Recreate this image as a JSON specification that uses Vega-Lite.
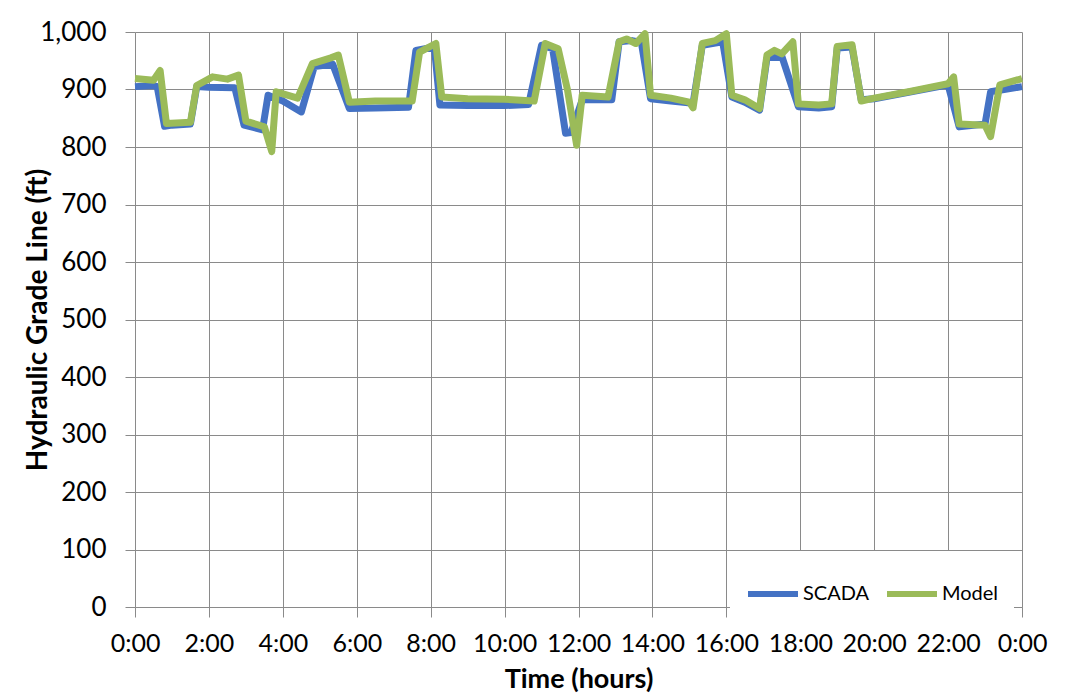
{
  "$schema": "https://vega.github.io/schema/vega-lite/v6.json",
  "width": 887,
  "height": 575,
  "autosize": {"type": "none"},
  "padding": {"left": 135, "top": 32, "right": 44, "bottom": 91},
  "background": "white",
  "config": {
    "view": {"stroke": null},
    "font": "Lato",
    "axis": {"labelFont": "Lato", "titleFont": "Lato", "gridColor": "#8a8a8a", "gridWidth": 1, "domainColor": "#8a8a8a", "tickColor": "#8a8a8a", "labelColor": "#000", "titleColor": "#000"}
  },
  "datasets": {
    "hgl": [
      {"t": 0, "v": 905, "series": "SCADA"},
      {"t": 0.5, "v": 907, "series": "SCADA"},
      {"t": 0.6, "v": 905, "series": "SCADA"},
      {"t": 0.8, "v": 836, "series": "SCADA"},
      {"t": 1.0, "v": 838, "series": "SCADA"},
      {"t": 1.5, "v": 840, "series": "SCADA"},
      {"t": 1.67, "v": 905, "series": "SCADA"},
      {"t": 2.0, "v": 904, "series": "SCADA"},
      {"t": 2.7, "v": 903, "series": "SCADA"},
      {"t": 2.95, "v": 838, "series": "SCADA"},
      {"t": 3.2, "v": 834, "series": "SCADA"},
      {"t": 3.45, "v": 830, "series": "SCADA"},
      {"t": 3.6, "v": 890, "series": "SCADA"},
      {"t": 4.0, "v": 880, "series": "SCADA"},
      {"t": 4.5, "v": 861, "series": "SCADA"},
      {"t": 4.85, "v": 940, "series": "SCADA"},
      {"t": 5.35, "v": 944, "series": "SCADA"},
      {"t": 5.8, "v": 867, "series": "SCADA"},
      {"t": 6.5, "v": 868, "series": "SCADA"},
      {"t": 7.4, "v": 869, "series": "SCADA"},
      {"t": 7.6, "v": 968, "series": "SCADA"},
      {"t": 8.1, "v": 974, "series": "SCADA"},
      {"t": 8.25, "v": 873, "series": "SCADA"},
      {"t": 9.0, "v": 872, "series": "SCADA"},
      {"t": 10.0, "v": 872, "series": "SCADA"},
      {"t": 10.65, "v": 874, "series": "SCADA"},
      {"t": 11.0, "v": 977, "series": "SCADA"},
      {"t": 11.3, "v": 971, "series": "SCADA"},
      {"t": 11.65, "v": 824, "series": "SCADA"},
      {"t": 11.8, "v": 825, "series": "SCADA"},
      {"t": 12.1, "v": 882, "series": "SCADA"},
      {"t": 12.9, "v": 882, "series": "SCADA"},
      {"t": 13.1, "v": 983, "series": "SCADA"},
      {"t": 13.45, "v": 985, "series": "SCADA"},
      {"t": 13.7, "v": 982, "series": "SCADA"},
      {"t": 13.95, "v": 884, "series": "SCADA"},
      {"t": 14.5, "v": 880, "series": "SCADA"},
      {"t": 15.1, "v": 876, "series": "SCADA"},
      {"t": 15.35, "v": 977, "series": "SCADA"},
      {"t": 15.9, "v": 983, "series": "SCADA"},
      {"t": 16.15, "v": 887, "series": "SCADA"},
      {"t": 16.5, "v": 878, "series": "SCADA"},
      {"t": 16.9, "v": 864, "series": "SCADA"},
      {"t": 17.1, "v": 955, "series": "SCADA"},
      {"t": 17.5, "v": 958, "series": "SCADA"},
      {"t": 17.95, "v": 870, "series": "SCADA"},
      {"t": 18.5, "v": 868, "series": "SCADA"},
      {"t": 18.85, "v": 870, "series": "SCADA"},
      {"t": 19.0, "v": 972, "series": "SCADA"},
      {"t": 19.4, "v": 974, "series": "SCADA"},
      {"t": 19.65, "v": 882, "series": "SCADA"},
      {"t": 20.0, "v": 884, "series": "SCADA"},
      {"t": 21.0, "v": 896, "series": "SCADA"},
      {"t": 22.0, "v": 908, "series": "SCADA"},
      {"t": 22.3, "v": 835, "series": "SCADA"},
      {"t": 23.0, "v": 840, "series": "SCADA"},
      {"t": 23.15, "v": 896, "series": "SCADA"},
      {"t": 24.0, "v": 905, "series": "SCADA"},
      {"t": 0, "v": 919, "series": "Model"},
      {"t": 0.5, "v": 916, "series": "Model"},
      {"t": 0.68, "v": 933, "series": "Model"},
      {"t": 0.85, "v": 841, "series": "Model"},
      {"t": 1.5, "v": 843, "series": "Model"},
      {"t": 1.67, "v": 907, "series": "Model"},
      {"t": 2.1, "v": 922, "series": "Model"},
      {"t": 2.5, "v": 918, "series": "Model"},
      {"t": 2.8, "v": 925, "series": "Model"},
      {"t": 3.0, "v": 845, "series": "Model"},
      {"t": 3.5, "v": 835, "series": "Model"},
      {"t": 3.7, "v": 792, "series": "Model"},
      {"t": 3.82, "v": 896, "series": "Model"},
      {"t": 4.4, "v": 885, "series": "Model"},
      {"t": 4.8, "v": 945, "series": "Model"},
      {"t": 5.3, "v": 955, "series": "Model"},
      {"t": 5.5, "v": 960, "series": "Model"},
      {"t": 5.8, "v": 878, "series": "Model"},
      {"t": 6.5, "v": 880, "series": "Model"},
      {"t": 7.5, "v": 880, "series": "Model"},
      {"t": 7.7, "v": 965, "series": "Model"},
      {"t": 8.14, "v": 980, "series": "Model"},
      {"t": 8.3, "v": 887, "series": "Model"},
      {"t": 9.0, "v": 884, "series": "Model"},
      {"t": 10.0, "v": 883, "series": "Model"},
      {"t": 10.8, "v": 880, "series": "Model"},
      {"t": 11.1, "v": 980, "series": "Model"},
      {"t": 11.45, "v": 971, "series": "Model"},
      {"t": 11.7, "v": 900, "series": "Model"},
      {"t": 11.95, "v": 803, "series": "Model"},
      {"t": 12.1, "v": 890, "series": "Model"},
      {"t": 12.8, "v": 887, "series": "Model"},
      {"t": 13.1, "v": 983, "series": "Model"},
      {"t": 13.3, "v": 988, "series": "Model"},
      {"t": 13.55, "v": 980, "series": "Model"},
      {"t": 13.8, "v": 997, "series": "Model"},
      {"t": 13.95, "v": 890, "series": "Model"},
      {"t": 14.5, "v": 885, "series": "Model"},
      {"t": 15.0, "v": 878, "series": "Model"},
      {"t": 15.1, "v": 868, "series": "Model"},
      {"t": 15.35, "v": 980, "series": "Model"},
      {"t": 15.7, "v": 985, "series": "Model"},
      {"t": 16.0, "v": 997, "series": "Model"},
      {"t": 16.15, "v": 890, "series": "Model"},
      {"t": 16.5, "v": 882, "series": "Model"},
      {"t": 16.9, "v": 867, "series": "Model"},
      {"t": 17.1, "v": 960, "series": "Model"},
      {"t": 17.3, "v": 968, "series": "Model"},
      {"t": 17.5, "v": 962, "series": "Model"},
      {"t": 17.8, "v": 983, "series": "Model"},
      {"t": 17.95, "v": 875, "series": "Model"},
      {"t": 18.5, "v": 873, "series": "Model"},
      {"t": 18.85, "v": 875, "series": "Model"},
      {"t": 19.0, "v": 975, "series": "Model"},
      {"t": 19.4, "v": 978, "series": "Model"},
      {"t": 19.65, "v": 880, "series": "Model"},
      {"t": 20.0, "v": 885, "series": "Model"},
      {"t": 21.0, "v": 897, "series": "Model"},
      {"t": 22.0, "v": 910, "series": "Model"},
      {"t": 22.15, "v": 922, "series": "Model"},
      {"t": 22.3, "v": 840, "series": "Model"},
      {"t": 23.0, "v": 838, "series": "Model"},
      {"t": 23.15, "v": 818, "series": "Model"},
      {"t": 23.4, "v": 908, "series": "Model"},
      {"t": 24.0, "v": 919, "series": "Model"}
    ]
  },
  "data": {"name": "hgl"},
  "encoding": {
    "x": {
      "field": "t", "type": "quantitative",
      "scale": {"domain": [0, 24], "nice": false, "zero": false},
      "axis": {
        "values": [0, 2, 4, 6, 8, 10, 12, 14, 16, 18, 20, 22, 24],
        "labelExpr": "(datum.value % 24) + ':00'",
        "labelFontSize": 25, "labelPadding": 14, "tickSize": 10,
        "title": "Time (hours)", "titleFontSize": 27, "titleFontWeight": "bold", "titlePadding": 10,
        "labelFlush": false, "labelOverlap": false
      }
    },
    "y": {
      "field": "v", "type": "quantitative",
      "scale": {"domain": [0, 1000], "nice": false},
      "axis": {
        "values": [0, 100, 200, 300, 400, 500, 600, 700, 800, 900, 1000],
        "format": ",.0f", "labelFontSize": 26, "labelPadding": 19, "tickSize": 10,
        "domain": false,
        "title": "Hydraulic Grade Line (ft)", "titleFontSize": 28, "titleFontWeight": "bold", "titlePadding": -13
      }
    },
    "color": {
      "field": "series", "type": "nominal",
      "scale": {"domain": ["SCADA", "Model"], "range": ["#4472C4", "#9BBB59"]},
      "legend": {
        "title": null, "orient": "none", "legendX": 595, "legendY": 519, "direction": "horizontal",
        "symbolType": "stroke", "symbolStrokeWidth": 6, "symbolSize": 2500,
        "labelFontSize": 20, "labelFont": "Lato", "labelOffset": 2, "columnPadding": 5,
        "padding": 15, "fillColor": "white"
      }
    }
  },
  "layer": [
    {"transform": [{"filter": "datum.series == 'SCADA'"}], "mark": {"type": "line", "strokeWidth": 7, "strokeJoin": "round"}},
    {"transform": [{"filter": "datum.series == 'Model'"}], "mark": {"type": "line", "strokeWidth": 7, "strokeJoin": "round"}}
  ]
}
